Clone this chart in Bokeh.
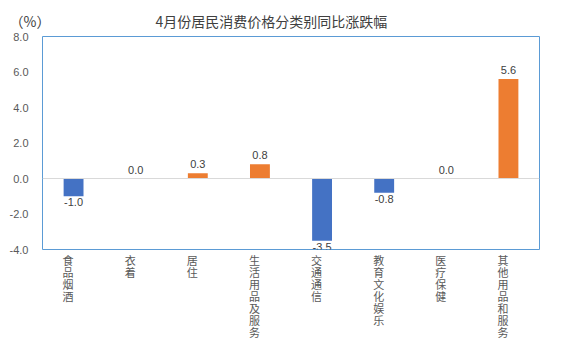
from bokeh.plotting import figure
from bokeh.models import (ColumnDataSource, Range1d, FixedTicker, NumeralTickFormatter,
                          Span, LinearAxis, Title)
from bokeh.core.properties import value
from bokeh.embed import file_html
from bokeh.resources import INLINE

categories = ["食品烟酒", "衣着", "居住", "生活用品及服务", "交通通信", "教育文化娱乐", "医疗保健", "其他用品和服务"]
values = [-1.0, 0.0, 0.3, 0.8, -3.5, -0.8, 0.0, 5.6]
y_ticks = [-4, -2, 0, 2, 4, 6, 8]
title_text = "4月份居民消费价格分类别同比涨跌幅"
unit_text = "（%）"

BLUE = "#4472C4"
ORANGE = "#ED7D31"
CJK = "Noto Sans CJK SC"

xs = [i + 0.5 for i in range(len(categories))]   # category slot centres

p = figure(width=574, height=356, output_backend="svg", toolbar_location=None,
           x_range=Range1d(0, len(categories)), y_range=Range1d(-4, 8),
           min_border_left=42, min_border_right=35, min_border_top=36, min_border_bottom=107)
p.outline_line_color = "#5B9BD5"
p.outline_line_width = 1
p.background_fill_color = "white"
p.border_fill_color = "white"
p.xgrid.visible = False
p.ygrid.visible = False

colors = [ORANGE if v >= 0 else BLUE for v in values]
src = ColumnDataSource(dict(x=xs, top=values, color=colors))
p.add_layout(Span(location=0, dimension="width", line_color="#D9D9D9", line_width=1))
p.vbar(x="x", top="top", bottom=0, width=0.32, fill_color="color", line_color=None, source=src)

pos = ColumnDataSource(dict(x=[x for x, v in zip(xs, values) if v >= 0],
                            y=[v for v in values if v >= 0],
                            t=[f"{v:.1f}" for v in values if v >= 0]))
neg = ColumnDataSource(dict(x=[x for x, v in zip(xs, values) if v < 0],
                            y=[v for v in values if v < 0],
                            t=[f"{v:.1f}" for v in values if v < 0]))
p.text(x="x", y="y", text="t", source=pos, text_align="center", text_baseline="bottom",
       y_offset=-5, text_font=value("Liberation Sans"), text_font_size="11px", text_color="#404040")
p.text(x="x", y="y", text="t", source=neg, text_align="center", text_baseline="top",
       y_offset=2, text_font=value("Liberation Sans"), text_font_size="11px", text_color="#404040")

ya = p.yaxis[0]
ya.ticker = FixedTicker(ticks=y_ticks)
ya.formatter = NumeralTickFormatter(format="0.0")
ya.axis_line_color = None
ya.major_tick_line_color = None
ya.minor_tick_line_color = None
ya.major_label_text_font = "Liberation Sans"
ya.major_label_text_font_size = "11px"
ya.major_label_text_color = "#595959"
ya.major_label_standoff = 8

# category labels: upright characters stacked vertically, one axis row per character
max_len = max(len(c) for c in categories)
for k in range(max_len):
    ax = p.xaxis[0] if k == 0 else LinearAxis()
    if k > 0:
        p.add_layout(ax, "below")
    ax.ticker = FixedTicker(ticks=xs, minor_ticks=[])
    ax.axis_line_color = None
    ax.major_tick_line_color = None
    ax.minor_tick_line_color = None
    ax.major_tick_out = 0
    ax.major_tick_in = 0
    ax.major_label_orientation = 0
    ax.major_label_overrides = {x: (c[k] if len(c) > k else "\u3000") for x, c in zip(xs, categories)}
    ax.major_label_text_font = CJK
    ax.major_label_text_font_size = "11px"
    ax.major_label_text_color = "#595959"
    ax.major_label_standoff = 10 if k == 0 else -7

p.title = Title(text=unit_text + "\u3000" * 7 + "\u2002\u2002" + title_text, align="left", offset=-33,
                text_font=CJK, text_font_size="14px", text_font_style="normal",
                text_color="#404040", standoff=12)

open("out.html", "w").write(file_html(p, INLINE))
